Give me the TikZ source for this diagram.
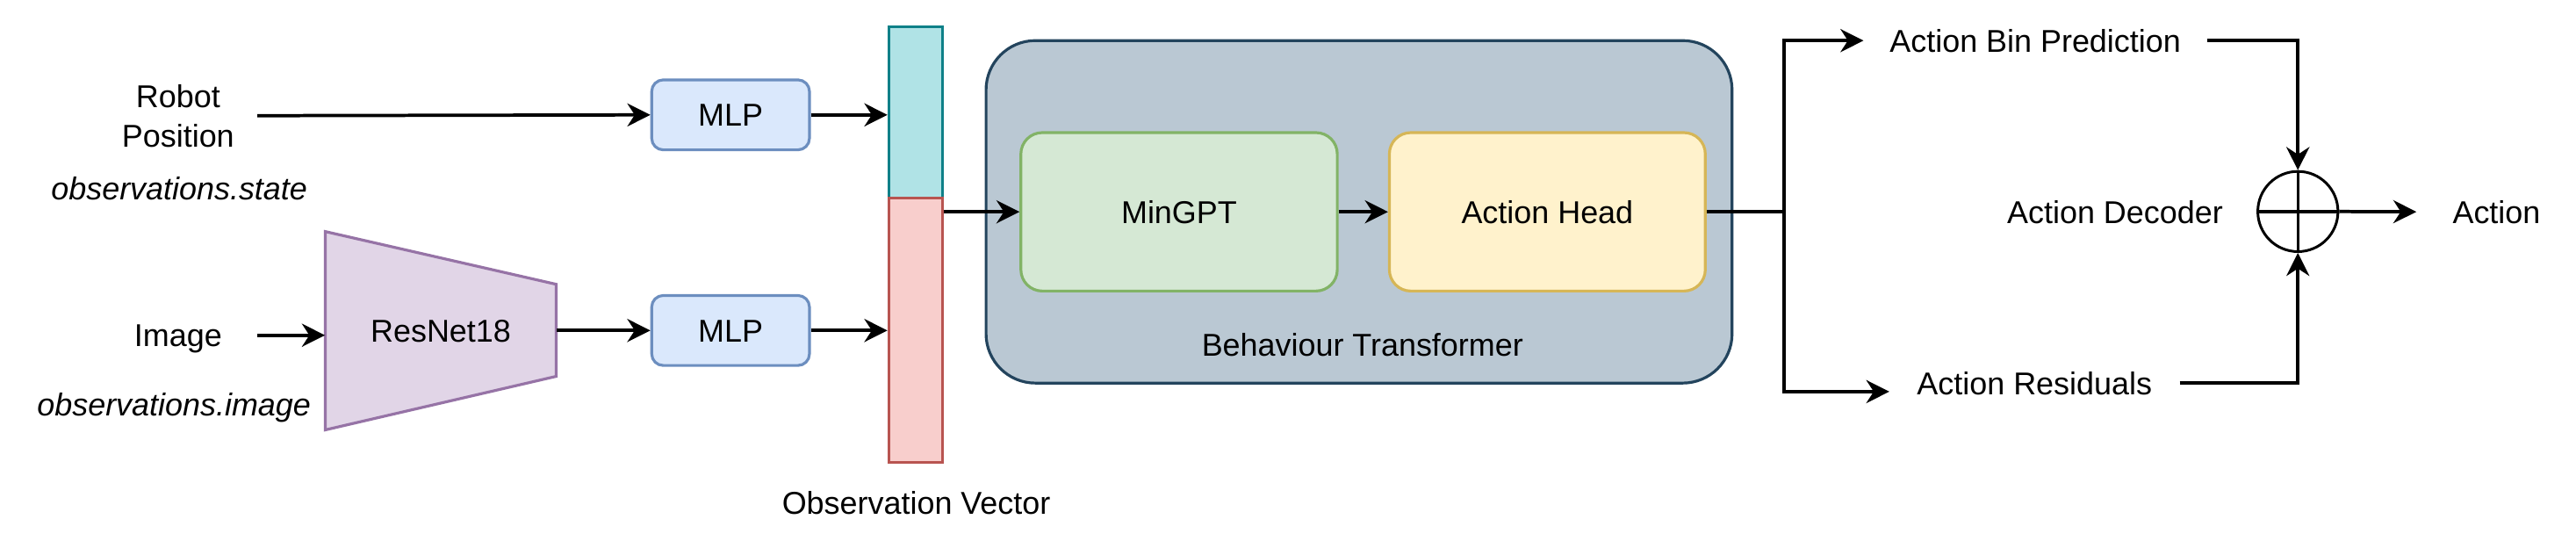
\documentclass[tikz,border=0pt]{standalone}
\usepackage{fontspec}
\setmainfont{Liberation Sans}
\usetikzlibrary{arrows.meta,calc}
\definecolor{mlpfill}{HTML}{DAE8FC}
\definecolor{mlpdraw}{HTML}{6C8EBF}
\definecolor{resfill}{HTML}{E1D5E7}
\definecolor{resdraw}{HTML}{9673A6}
\definecolor{tealfill}{HTML}{B0E3E6}
\definecolor{tealdraw}{HTML}{0E8088}
\definecolor{redfill}{HTML}{F8CECC}
\definecolor{reddraw}{HTML}{B85450}
\definecolor{btfill}{HTML}{BAC8D3}
\definecolor{btdraw}{HTML}{23445D}
\definecolor{gptfill}{HTML}{D5E8D4}
\definecolor{gptdraw}{HTML}{82B366}
\definecolor{ahfill}{HTML}{FFF2CC}
\definecolor{ahdraw}{HTML}{D6B656}
\tikzset{
  arr/.style={line width=2pt,-{Stealth[length=14pt,width=14pt,inset=4.5pt]}},
  plain/.style={line width=2pt},
  txt/.style={inner sep=0pt,text height=13.75pt,text depth=0pt,anchor=center},
  boxbase/.style={line width=1.7pt,inner sep=0pt,anchor=center},
  mlpbox/.style={boxbase,draw=mlpdraw,fill=mlpfill,rounded corners=7pt,minimum width=96pt,minimum height=42.6pt,text height=13.75pt,text depth=0pt},
  vecbox/.style={boxbase,minimum width=32.5pt},
}
\begin{document}
\begin{tikzpicture}[x=1pt,y=-1pt,font=\fontsize{19.2}{24}\selectfont]
\useasboundingbox (0,0) rectangle (1568,329);

% inputs
\node[inner sep=0pt,align=center,minimum width=96pt,anchor=center] (rp) at (108.4,70.4) {Robot\\Position};
\node[txt] (rpl) at (109.1,114.9) {\itshape observations.state};
\node[txt,minimum width=96pt] (img) at (108.4,204.0) {Image};
\node[txt] (imgl) at (105.9,246.3) {\itshape observations.image};

% ResNet18 trapezoid
\draw[line width=1.7pt,draw=resdraw,fill=resfill] (198,140.9) -- (338.6,173) -- (338.6,229) -- (198,261.6) -- cycle;
\node[txt,minimum width=140.6pt,minimum height=120.7pt] (res) at (268.3,201.3) {ResNet18};

% MLPs
\node[mlpbox] (mlp1) at (444.7,69.9) {MLP};
\node[mlpbox] (mlp2) at (444.7,201.1) {MLP};

% observation vector
\node[vecbox,draw=tealdraw,fill=tealfill,minimum height=104.2pt] (obsT) at (557.25,68.5) {};
\node[vecbox,draw=reddraw,fill=redfill,minimum height=160.9pt] (obsB) at (557.25,201.05) {};
\node[txt] (obsl) at (557.7,306) {Observation Vector};

% Behaviour transformer
\node[boxbase,draw=btdraw,fill=btfill,rounded corners=30pt,minimum width=454.1pt,minimum height=208.4pt] (bt) at (827.25,128.9) {};
\node[txt] (btl) at (829.3,209.6) {Behaviour Transformer};
\node[boxbase,draw=gptdraw,fill=gptfill,rounded corners=13pt,minimum width=192.6pt,minimum height=96.4pt,text height=13.75pt,text depth=0pt] (gpt) at (717.7,128.9) {MinGPT};
\node[boxbase,draw=ahdraw,fill=ahfill,rounded corners=13pt,minimum width=192.3pt,minimum height=96.4pt,text height=13.75pt,text depth=0pt] (ah) at (941.85,128.9) {Action Head};

% outputs
\coordinate (j) at (1085.8,128.9);
\node[txt,minimum width=208.7pt] (abp) at (1238.85,24.7) {Action Bin Prediction};
\node[txt,minimum width=176.4pt] (ar) at (1238.4,233.1) {Action Residuals};
\node[txt] (adl) at (1287.4,128.9) {Action Decoder};
\node[draw,line width=1.6pt,circle,minimum size=48.8pt,inner sep=0pt] (circ) at (1398.7,128.7) {};
\draw[line width=1.8pt] (circ.north) -- (circ.south) (circ.west) -- (circ.east);
\node[txt,minimum width=97.2pt] (act) at (1519.6,128.9) {Action};

% connectors
\draw[arr] (rp.east) -- (mlp1.west);
\draw[arr] (img.east) -- (img.east -| res.west);
\draw[arr] (res.east |- mlp2.west) -- (mlp2.west);
\draw[arr] (mlp1.east) -- (mlp1.east -| obsT.west);
\draw[arr] (mlp2.east) -- (mlp2.east -| obsB.west);
\draw[arr] (gpt.west -| obsB.east) -- (gpt.west);
\draw[arr] (gpt.east) -- (ah.west);
\draw[plain] (ah.east) -- (j);
\draw[arr] (j) |- (abp.west);
\draw[arr] (j) |- ([yshift=-5.2pt]ar.west);
\draw[arr] (abp.east) -| (circ.north);
\draw[arr] (ar.east) -| (circ.south);
\draw[arr] (circ.east) -- (act.west);
\end{tikzpicture}
\end{document}
